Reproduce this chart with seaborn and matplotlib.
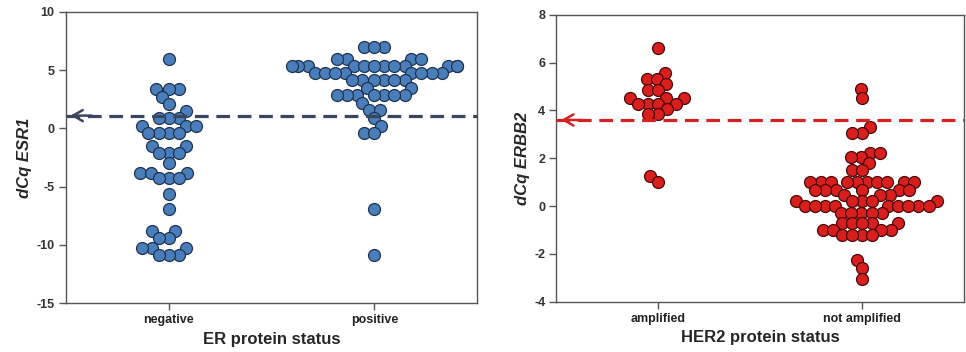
import numpy as np
import pandas as pd
import matplotlib
matplotlib.use("Agg")
import matplotlib.pyplot as plt
import seaborn as sns

# values (dCq per sample)
er_negative = [6.0, 3.4, 3.4, 3.4, 2.7, 2.1, 1.5, 0.9, 0.9, 0.9, 0.2, 0.2, 0.2,
               -0.4, -0.4, -0.4, -0.4, -1.5, -1.5, -2.1, -2.1, -2.1, -3.0,
               -3.8, -3.8, -3.8, -4.3, -4.3, -4.3, -5.6, -6.9, -8.8, -8.8,
               -9.4, -9.4, -10.3, -10.3, -10.3, -10.9, -10.9, -10.9]
er_positive = [7.0, 7.0, 7.0, 6.0, 6.0, 6.0, 6.0,
               5.4, 5.4, 5.4, 5.4, 5.4, 5.4, 5.4, 5.4, 5.4, 5.4, 5.4, 5.4,
               4.8, 4.8, 4.8, 4.8, 4.8, 4.8, 4.8, 4.8,
               4.2, 4.2, 4.2, 4.2, 4.2, 4.2, 3.5, 3.5,
               2.9, 2.9, 2.9, 2.9, 2.9, 2.9, 2.9,
               2.2, 1.6, 1.6, 0.9, 0.2, -0.4, -0.4, -6.9, -10.9]
er_labels = ["negative", "positive"]
esr1_cutoff = 1.1

her2_amplified = [6.6, 5.55, 5.3, 5.3, 5.1, 4.85, 4.85, 4.5, 4.5, 4.5,
                  4.25, 4.25, 4.25, 4.25, 4.05, 3.85, 3.85, 1.25, 1.0]
her2_not_amplified = [4.9, 4.5, 3.3, 3.05, 3.05, 2.2, 2.2, 2.05, 2.05, 1.8, 1.5, 1.5,
                      1.0, 1.0, 1.0, 1.0, 1.0, 1.0, 1.0, 1.0, 1.0, 1.0,
                      0.65, 0.65, 0.65, 0.65, 0.65, 0.65, 0.45, 0.45, 0.45,
                      0.2, 0.2, 0.2, 0.2, 0.2,
                      0.0, 0.0, 0.0, 0.0, 0.0, 0.0, 0.0, 0.0, 0.0,
                      -0.3, -0.3, -0.3, -0.3, -0.3,
                      -0.7, -0.7, -0.7, -0.7, -0.7,
                      -1.0, -1.0, -1.0, -1.0, -1.2, -1.2, -1.2, -1.2,
                      -2.25, -2.6, -3.05]
her2_labels = ["amplified", "not amplified"]
erbb2_cutoff = 3.6

sns.set_style("ticks")
plt.rcParams["font.family"] = ["Liberation Sans", "DejaVu Sans"]

er_df = pd.DataFrame({
    "status": [er_labels[0]] * len(er_negative) + [er_labels[1]] * len(er_positive),
    "dcq": er_negative + er_positive,
})
her2_df = pd.DataFrame({
    "status": [her2_labels[0]] * len(her2_amplified) + [her2_labels[1]] * len(her2_not_amplified),
    "dcq": her2_amplified + her2_not_amplified,
})

fig = plt.figure(figsize=(9.66, 3.52), dpi=100)
ax1 = fig.add_axes([0.068, 0.139, 0.426, 0.827])
ax2 = fig.add_axes([0.576, 0.143, 0.422, 0.815])

# swarm is laid out with a smaller marker, then drawn bigger so dots overlap
# a bit like the SPSS dot plot
layout_size = 6.0
dot_size = 8.6


def draw_panel(ax, df, order, face, edge, line_col, cutoff, ylim, yticks, xlabel, ylabel):
    sns.swarmplot(data=df, x="status", y="dcq", order=order, ax=ax, color=face,
                  edgecolor=edge, linewidth=0.9, size=layout_size, zorder=3, warn_thresh=1)
    ax.set_xlim(-0.5, 1.5)
    ax.set_ylim(*ylim)
    ax.set_yticks(yticks)
    ax.set_yticklabels([str(t) for t in yticks], fontsize=9, fontweight="bold", color="#333333")
    ax.set_xticks([0, 1])
    ax.set_xticklabels(order, fontsize=9, fontweight="bold", color="#222222")
    ax.set_xlabel(xlabel, fontsize=12, fontweight="bold", labelpad=4)
    ax.set_ylabel(ylabel, fontsize=12, fontweight="bold", fontstyle="italic", labelpad=3)
    for sp in ax.spines.values():
        sp.set_visible(True)
        sp.set_color("#555555")
        sp.set_linewidth(1.0)
    ax.tick_params(axis="both", length=5, width=1, color="#555555", pad=3)
    ax.axhline(cutoff, color=line_col, lw=2.3, linestyle=(0, (4.3, 2.4)), zorder=4)
    ax.annotate("", xy=(0.005, cutoff), xycoords=("axes fraction", "data"),
                xytext=(0.07, cutoff), textcoords=("axes fraction", "data"),
                arrowprops=dict(arrowstyle="->,head_length=0.7,head_width=0.4",
                                lw=1.8, color=line_col), zorder=5)


draw_panel(ax1, er_df, er_labels, "#4A7EBB", "#1E3350", "#3A465E", esr1_cutoff,
           (-15, 10), [10, 5, 0, -5, -10, -15], "ER protein status", "dCq ESR1")
draw_panel(ax2, her2_df, her2_labels, "#D91E1E", "#4A0808", "#D42222", erbb2_cutoff,
           (-4, 8), [8, 6, 4, 2, 0, -2, -4], "HER2 protein status", "dCq ERBB2")

# run the swarm layout once, then freeze it and enlarge the dots
fig.canvas.draw()
for ax in (ax1, ax2):
    for coll in ax.collections:
        if "draw" in coll.__dict__:
            del coll.draw
        coll.set_sizes([dot_size ** 2])

fig.savefig("out.png", dpi=100, facecolor="white")
